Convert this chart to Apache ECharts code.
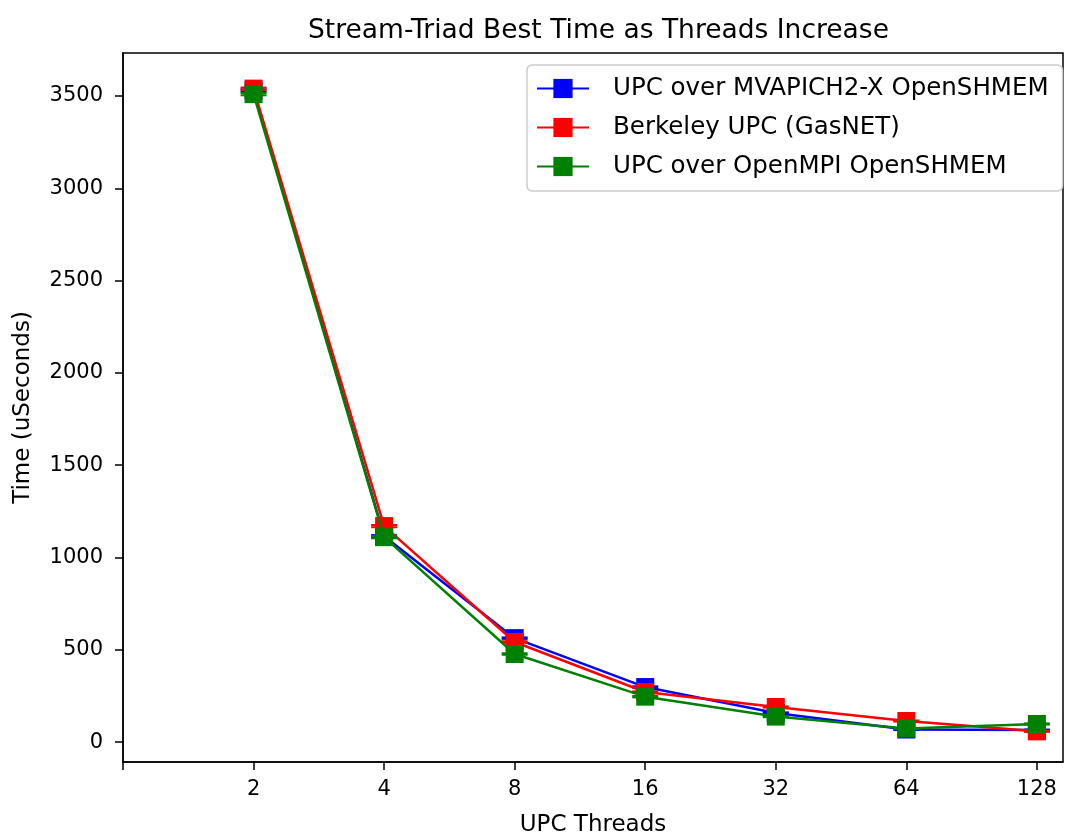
<!DOCTYPE html>
<html><head><meta charset="utf-8">
<script src="https://cdn.jsdelivr.net/npm/echarts@6/dist/echarts.min.js"></script>
<style>html,body{margin:0;padding:0;background:#fff}#c{width:1065px;height:838px}</style>
</head><body><div id="c"></div>
<script>
// Data
var threadLabels = ['2','4','8','16','32','64','128'];
var xPos = [1,2,3,4,5,6,7];
var seriesNames = ['UPC over MVAPICH2-X OpenSHMEM','Berkeley UPC (GasNET)','UPC over OpenMPI OpenSHMEM'];
var mvapich = [3530,1115,563,298,158,68,65];
var berkeley = [3540,1170,542,271,190,114,58];
var openmpi = [3510,1110,477,246,138,73,98];
var mvapichErr = [6,6,4,4,3,3,3];
var berkeleyErr = [6,6,4,4,3,3,3];
var openmpiErr = [6,6,4,4,3,3,3];
var yTicks = [0,500,1000,1500,2000,2500,3000,3500];

var colors = ['#0000ff','#ff0000','#008000'];
var vals = [mvapich, berkeley, openmpi];
var errs = [mvapichErr, berkeleyErr, openmpiErr];
var font = 'DejaVu Sans';

var series = [];
for (var s = 0; s < 3; s++) {
  (function(s){
    var errData = xPos.map(function(x,i){ return [x, vals[s][i]-errs[s][i], vals[s][i]+errs[s][i]]; });
    series.push({
      type: 'custom', name: seriesNames[s] + ' err', z: 2 + s*2,
      data: errData, silent: true,
      renderItem: function(params, api){
        var x = api.value(0), lo = api.value(1), hi = api.value(2);
        var p1 = api.coord([x, lo]), p2 = api.coord([x, hi]);
        var cw = 13;
        var st = {stroke: colors[s], lineWidth: 2};
        return {type:'group', children:[
          {type:'line', shape:{x1:p1[0],y1:p1[1],x2:p2[0],y2:p2[1]}, style:st},
          {type:'line', shape:{x1:p1[0]-cw,y1:p1[1],x2:p1[0]+cw,y2:p1[1]}, style:st},
          {type:'line', shape:{x1:p2[0]-cw,y1:p2[1],x2:p2[0]+cw,y2:p2[1]}, style:st}
        ]};
      }
    });
    series.push({
      type: 'line', name: seriesNames[s], z: 3 + s*2,
      data: xPos.map(function(x,i){ return [x, vals[s][i]]; }),
      symbol: 'rect', symbolSize: 18, showAllSymbol: true,
      lineStyle: {color: colors[s], width: 2.5},
      itemStyle: {color: colors[s]},
      emphasis: {disabled: true},
      animation: false
    });
  })(s);
}

var chart = echarts.init(document.getElementById('c'));
chart.setOption({
  animation: false,
  backgroundColor: '#fff',
  title: {text: 'Stream-Triad Best Time as Threads Increase', left: 303, top: 13, itemGap: 0,
    textStyle: {fontFamily: font, fontSize: 26.5, fontWeight: 'normal', color: '#000'}},
  grid: {left: 123, right: 2, top: 53, bottom: 76, show: true, borderColor: '#000', borderWidth: 1.5,
    backgroundColor: 'transparent', outerBoundsMode: 'none', containLabel: false},
  legend: {
    data: seriesNames, orient: 'vertical', left: 527, top: 65,
    padding: [11, 14, 12, 9], itemGap: 14, itemWidth: 52, itemHeight: 24,
    borderColor: '#cccccc', borderWidth: 1.5, borderRadius: 5, backgroundColor: 'rgba(255,255,255,0.8)',
    textStyle: {fontFamily: font, fontSize: 24.5, color: '#000', padding: [0,0,0,19]}
  },
  xAxis: {
    type: 'value', min: 0, max: 7.2, interval: 1,
    name: 'UPC Threads', nameLocation: 'middle', nameGap: 52,
    nameTextStyle: {fontFamily: font, fontSize: 23, color: '#000'},
    splitLine: {show: false},
    axisLine: {show: true, onZero: false, lineStyle: {color: '#000', width: 1.5}},
    axisTick: {show: true, length: 8, inside: false, lineStyle: {color: '#000', width: 1.5}, customValues: [0,1,2,3,4,5,6,7]},
    axisLabel: {fontFamily: font, fontSize: 21, color: '#000', margin: 17,
      customValues: xPos,
      formatter: function(v){ var i = Math.round(v)-1; return threadLabels[i] || ''; }}
  },
  yAxis: {
    type: 'value', min: -108, max: 3733,
    name: 'Time (uSeconds)', nameLocation: 'middle', nameGap: 88,
    nameTextStyle: {fontFamily: font, fontSize: 23, color: '#000'},
    splitLine: {show: false},
    axisLine: {show: true, onZero: false, lineStyle: {color: '#000', width: 1.5}},
    axisTick: {show: true, length: 8, lineStyle: {color: '#000', width: 1.5}, customValues: yTicks},
    axisLabel: {fontFamily: font, fontSize: 21, color: '#000', margin: 20, customValues: yTicks,
      formatter: function(v){ return String(v); }}
  },
  series: series
});
</script></body></html>
